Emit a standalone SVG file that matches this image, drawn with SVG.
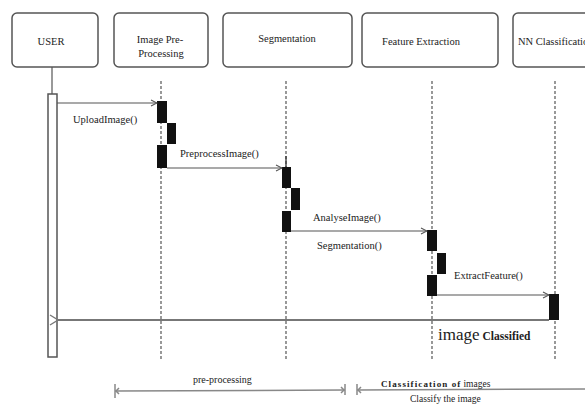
<svg xmlns="http://www.w3.org/2000/svg" width="585" height="406" viewBox="0 0 585 406" font-family="Liberation Serif, Times New Roman, serif">
  <defs>
    <style>
      .box { fill: #fff; stroke: #555; stroke-width: 1.5; }
      .hd { font-size: 10.5px; fill: #222; text-anchor: middle; }
      .lbl { font-size: 10.5px; fill: #222; }
      .life { stroke: #555; stroke-width: 1.2; stroke-dasharray: 3 2; fill: none; }
      .act { fill: #111; }
      .msg { stroke: #555; stroke-width: 1.2; fill: none; marker-end: url(#open); }
      .ret { stroke: #777; stroke-width: 2; fill: none; marker-end: url(#openRet); }
      .span { stroke: #888; stroke-width: 1.5; fill: none; }
    </style>
    <marker id="open" markerWidth="8" markerHeight="8" refX="7" refY="4" orient="auto" markerUnits="userSpaceOnUse">
      <path d="M1,1 L7,4 L1,7" fill="none" stroke="#555" stroke-width="1.1"/>
    </marker>
    <marker id="openRet" markerWidth="12" markerHeight="12" refX="1" refY="6" orient="auto" markerUnits="userSpaceOnUse">
      <path d="M9,1 L1,6 L9,11" fill="none" stroke="#777" stroke-width="1.3"/>
    </marker>
  </defs>

  <rect width="585" height="406" fill="#fff"/>

  <!-- participants -->
  <g id="user">
    <rect class="box" x="12" y="13" width="86" height="54" rx="5"/>
    <text class="hd" x="51" y="45">USER</text>
    <line x1="52" y1="67" x2="52" y2="94" stroke="#555" stroke-width="1.2"/>
    <rect x="48" y="94" width="9" height="263" fill="#fff" stroke="#555" stroke-width="1.5"/>
  </g>

  <g id="preprocessing">
    <rect class="box" x="114" y="13" width="94" height="54" rx="5"/>
    <text class="hd" x="160" y="43">Image Pre-</text>
    <text class="hd" x="161" y="57">Processing</text>
    <line class="life" x1="161" y1="81" x2="161" y2="361"/>
    <rect class="act" x="157" y="101" width="10" height="22"/>
    <rect class="act" x="167" y="123" width="9" height="21"/>
    <rect class="act" x="157" y="145" width="10" height="23"/>
  </g>

  <g id="segmentation">
    <rect class="box" x="223" y="13" width="129" height="54" rx="5"/>
    <text class="hd" x="287" y="42">Segmentation</text>
    <line class="life" x1="286" y1="81" x2="286" y2="361"/>
    <line x1="286" y1="156" x2="286" y2="167" stroke="#333" stroke-width="1.3"/>
    <rect class="act" x="282" y="167" width="9" height="21"/>
    <rect class="act" x="291" y="188" width="9" height="22"/>
    <rect class="act" x="282" y="211" width="9" height="21"/>
  </g>

  <g id="feature-extraction">
    <rect class="box" x="362" y="13" width="136" height="54" rx="5"/>
    <text class="hd" x="421" y="45">Feature Extraction</text>
    <line class="life" x1="432" y1="81" x2="432" y2="361"/>
    <rect class="act" x="427" y="230" width="10" height="21"/>
    <rect class="act" x="437" y="253" width="9" height="21"/>
    <rect class="act" x="427" y="275" width="10" height="21"/>
  </g>

  <g id="nn-classification">
    <rect class="box" x="513" y="13" width="100" height="54" rx="5"/>
    <text class="lbl" x="518" y="45">NN Classification</text>
    <line class="life" x1="555" y1="81" x2="555" y2="361"/>
    <rect class="act" x="549" y="294" width="10" height="26"/>
  </g>

  <!-- messages -->
  <g id="connectors">
    <line class="msg" x1="57" y1="103" x2="157" y2="103"/>
    <line class="msg" x1="167" y1="168" x2="282" y2="168"/>
    <line class="msg" x1="291" y1="231" x2="427" y2="231"/>
    <line class="msg" x1="437" y1="295" x2="549" y2="295"/>
    <line class="ret" x1="549" y1="320" x2="58" y2="320"/>
  </g>

  <g id="message-labels">
    <text class="lbl" x="73" y="123">UploadImage()</text>
    <text class="lbl" x="180" y="157">PreprocessImage()</text>
    <text class="lbl" x="313" y="221">AnalyseImage()</text>
    <text class="lbl" x="317" y="249">Segmentation()</text>
    <text class="lbl" x="454" y="279">ExtractFeature()</text>
    <text x="438" y="340" font-size="17" fill="#222">image<tspan font-size="11.5" font-weight="bold" dx="3">Classified</tspan></text>
  </g>

  <!-- phase spans -->
  <g id="phases">
    <line class="span" x1="115" y1="391" x2="345" y2="390"/>
    <line class="span" x1="115" y1="384" x2="115" y2="398"/>
    <path d="M116,391 L119,388 M116,391 L119,394" class="span" stroke-width="1"/>
    <line class="span" x1="345" y1="384" x2="345" y2="395"/>
    <path d="M344,390 L341,387 M344,390 L341,393" class="span" stroke-width="1"/>
    <line class="span" x1="357" y1="384" x2="357" y2="395"/>
    <path d="M358,390 L361,387 M358,390 L361,393" class="span" stroke-width="1"/>
    <line class="span" x1="357" y1="390" x2="585" y2="389"/>
    <text class="lbl" x="193" y="383" font-size="10px" style="font-size:10px">pre-processing</text>
    <text x="381" y="387" fill="#222"><tspan font-size="9" font-weight="bold" letter-spacing="1.1">Classification of</tspan><tspan font-size="9.5" dx="2">images</tspan></text>
    <text x="410" y="402" font-size="9.5" fill="#222">Classify the image</text>
  </g>
</svg>
